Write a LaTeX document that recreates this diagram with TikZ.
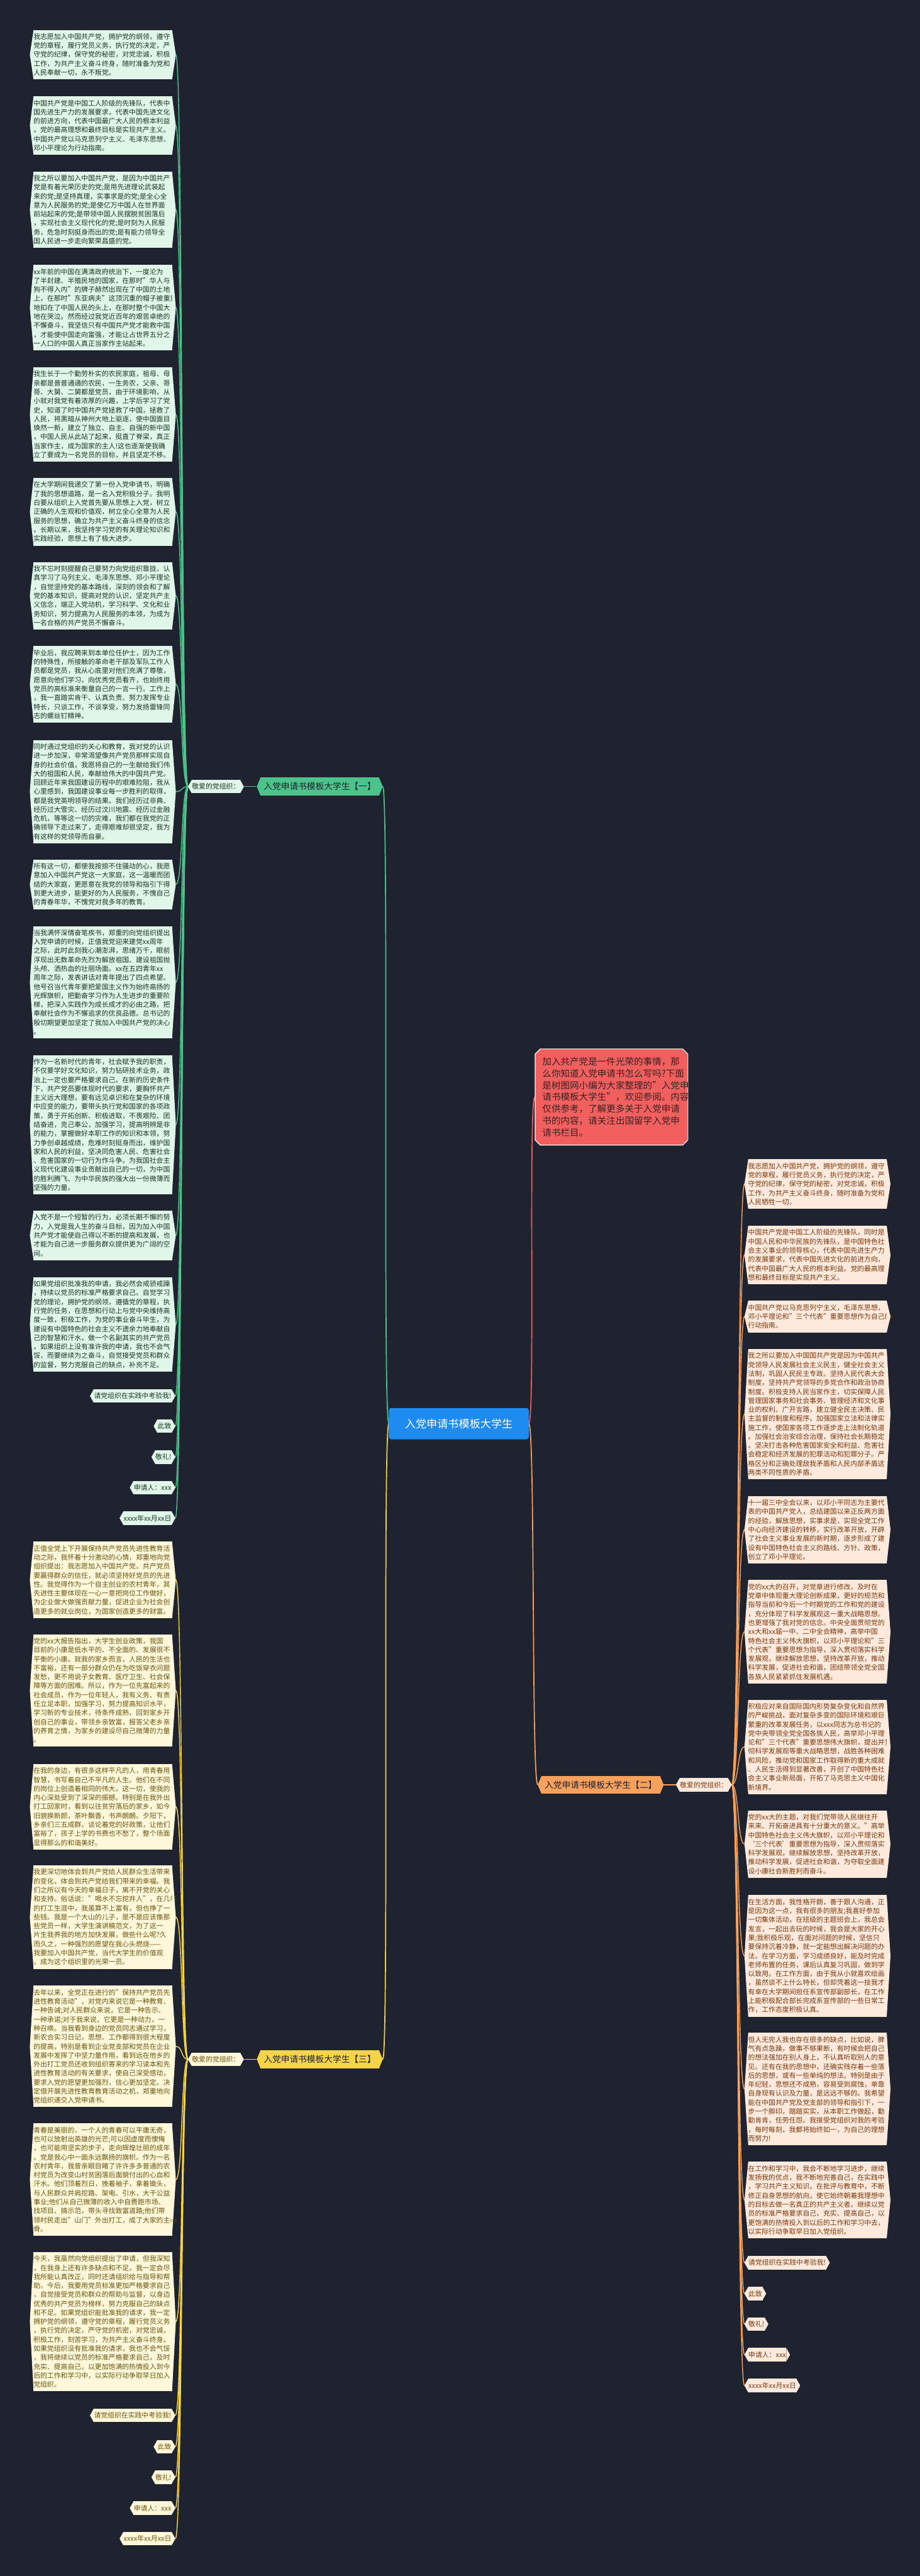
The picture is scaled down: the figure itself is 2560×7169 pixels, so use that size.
\documentclass[tikz,border=0pt]{standalone}
\usepackage{fontspec}
\setmainfont{Noto Sans CJK SC}
\usepackage{tikz}
\usetikzlibrary{backgrounds,shapes.misc}

\definecolor{bgcol}{HTML}{1F2330}
\definecolor{gfill}{HTML}{DFF6E9}
\definecolor{gtext}{HTML}{1C3326}
\definecolor{gline}{HTML}{4CC38A}
\definecolor{yfill}{HTML}{FEF7DA}
\definecolor{ytext}{HTML}{6B5511}
\definecolor{yline}{HTML}{F5D547}
\definecolor{ofill}{HTML}{FDEADD}
\definecolor{otext}{HTML}{7A3A10}
\definecolor{oline}{HTML}{F7A15C}
\definecolor{rfill}{HTML}{F25F5F}
\definecolor{rtext}{HTML}{3A2222}
\definecolor{cfill}{HTML}{1E8BF0}

% pointed ends of a box
\newcommand{\hexends}[2]{%
  \fill[#2] ([xshift=0.5pt]#1.north west) -- ([xshift=-10pt]#1.west) -- ([xshift=0.5pt]#1.south west) -- cycle;
  \fill[#2] ([xshift=-0.5pt]#1.north east) -- ([xshift=10pt]#1.east) -- ([xshift=-0.5pt]#1.south east) -- cycle;}

\tikzset{
  blk/.style={anchor=north west, text width=386pt, align=left, inner xsep=0pt, inner ysep=10pt, font=\fontsize{19}{25}\selectfont},
  leaf/.style={inner xsep=1pt, inner ysep=10pt, font=\fontsize{19}{25}\selectfont},
  gblk/.style={blk, fill=gfill, text=gtext},
  yblk/.style={blk, fill=yfill, text=ytext},
  oblk/.style={blk, fill=ofill, text=otext},
  branch/.style={inner xsep=9pt, inner ysep=14pt, font=\fontsize{24}{28}\selectfont, text=bgcol},
  conn/.style={line width=2.5pt},
}

\begin{document}
\begin{tikzpicture}[x=1pt,y=-1pt]
\useasboundingbox (0,0) rectangle (2560,7169);

% centre and intro
\node[fill=cfill, text=white, rounded corners=6pt, minimum width=389pt, minimum height=87pt, font=\fontsize{30}{34}\selectfont] (ctr) at (1277,3962) {入党申请书模板大学生};
\node[chamfered rectangle, chamfered rectangle xsep=7pt, chamfered rectangle ysep=7pt, draw=white, line width=2pt, fill=rfill, text=rtext, text width=385pt, align=left, inner xsep=13pt, inner ysep=16pt, font=\fontsize{25.5}{33}\selectfont] (intro) at (1702,3053) {加入共产党是一件光荣的事情，那\\么你知道入党申请书怎么写吗?下面\\是树图网小编为大家整理的"入党申\\请书模板大学生"，欢迎参阅。内容\\仅供参考，了解更多关于入党申请\\书的内容，请关注出国留学入党申\\请书栏目。};

% branch one
\node[branch, fill=gline] (bg) at (890,2189) {入党申请书模板大学生【一】};
\node[leaf, fill=gfill, text=gtext] (lg) at (601,2189) {敬爱的党组织：};
\node[gblk] (g1) at (93,83) {我志愿加入中国共产党，拥护党的纲领，遵守\\党的章程，履行党员义务，执行党的决定，严\\守党的纪律，保守党的秘密，对党忠诚，积极\\工作，为共产主义奋斗终身，随时准备为党和\\人民奉献一切，永不叛党。};
\node[gblk] (g2) at (93,268) {中国共产党是中国工人阶级的先锋队，代表中\\国先进生产力的发展要求，代表中国先进文化\\的前进方向，代表中国最广大人民的根本利益\\。党的最高理想和最终目标是实现共产主义。\\中国共产党以马克思列宁主义、毛泽东思想、\\邓小平理论为行动指南。};
\node[gblk] (g3) at (93,477) {我之所以要加入中国共产党，是因为中国共产\\党是有着光荣历史的党;是用先进理论武装起\\来的党;是坚持真理，实事求是的党;是全心全\\意为人民服务的党;是使亿万中国人在世界面\\前站起来的党;是带领中国人民摆脱贫困落后\\，实现社会主义现代化的党;是时刻为人民服\\务，危急时刻挺身而出的党;是有能力领导全\\国人民进一步走向繁荣昌盛的党。};
\node[gblk] (g4) at (93,737) {xx年前的中国在满清政府统治下，一度沦为\\了半封建、半殖民地的国家，在那时"华人与\\狗不得入内"的牌子赫然出现在了中国的土地\\上，在那时"东亚病夫"这顶沉重的帽子被重重\\地扣在了中国人民的头上，在那时整个中国大\\地在哭泣。然而经过我党近百年的艰苦卓绝的\\不懈奋斗，我坚信只有中国共产党才能救中国\\，才能使中国走向富强，才能让占世界五分之\\一人口的中国人真正当家作主站起来。};
\node[gblk] (g5) at (93,1022) {我生长于一个勤劳朴实的农民家庭，祖母、母\\亲都是普普通通的农民，一生务农，父亲、哥\\哥、大舅、二舅都是党员，由于环境影响，从\\小就对我党有着浓厚的兴趣，上学后学习了党\\史，知道了时中国共产党拯救了中国，拯救了\\人民，将黑暗从神州大地上驱逐，使中国面目\\焕然一新，建立了独立、自主、自强的新中国\\，中国人民从此站了起来，挺直了脊梁，真正\\当家作主，成为国家的主人!这也逐渐使我确\\立了要成为一名党员的目标，并且坚定不移。};
\node[gblk] (g6) at (93,1330) {在大学期间我递交了第一份入党申请书，明确\\了我的思想道路，是一名入党积极分子。我明\\白要从组织上入党首先要从思想上入党，树立\\正确的人生观和价值观，树立全心全意为人民\\服务的思想，确立为共产主义奋斗终身的信念\\。长期以来，我坚持学习党的有关理论知识和\\实践经验，思想上有了极大进步。};
\node[gblk] (g7) at (93,1564) {我不忘时刻提醒自己要努力向党组织靠拢，认\\真学习了马列主义、毛泽东思想、邓小平理论\\，自觉坚持党的基本路线，深刻的领会和了解\\党的基本知识，提高对党的认识，坚定共产主\\义信念，端正入党动机，学习科学、文化和业\\务知识，努力提高为人民服务的本领，为成为\\一名合格的共产党员不懈奋斗。};
\node[gblk] (g8) at (93,1798) {毕业后，我应聘来到本单位任护士，因为工作\\的特殊性，所接触的革命老干部及军队工作人\\员都是党员，我从心底里对他们充满了尊敬，\\愿意向他们学习，向优秀党员看齐，也始终用\\党员的高标准来衡量自己的一言一行。工作上\\，我一直踏实肯干、认真负责、努力发挥专业\\特长，只谈工作，不谈享受，努力发扬雷锋同\\志的螺丝钉精神。};
\node[gblk] (g9) at (93,2059) {同时通过党组织的关心和教育，我对党的认识\\进一步加深，非常渴望像共产党员那样实现自\\身的社会价值，我愿将自己的一生献给我们伟\\大的祖国和人民，奉献给伟大的中国共产党。\\回顾近年来我国建设历程中的艰难险阻，我从\\心里感到，我国建设事业每一步胜利的取得，\\都是我党英明领导的结果。我们经历过非典、\\经历过大雪灾、经历过汶川地震、经历过金融\\危机，等等这一切的灾难，我们都在我党的正\\确领导下走过来了，走得艰难却很坚定，我为\\有这样的党领导而自豪。};
\node[gblk] (g10) at (93,2392) {所有这一切，都使我按捺不住骚动的心，我愿\\意加入中国共产党这一大家庭，这一温暖而团\\结的大家庭，更愿意在我党的领导和指引下得\\到更大进步，能更好的为人民服务，不愧自己\\的青春年华，不愧党对我多年的教育。};
\node[gblk] (g11) at (93,2577) {当我满怀深情奋笔疾书，郑重的向党组织提出\\入党申请的时候，正值我党迎来建党xx周年\\之际，此时此刻我心潮澎湃，思绪万千，眼前\\浮现出无数革命先烈为解放祖国、建设祖国抛\\头颅、洒热血的壮丽场面。xx在五四青年xx\\周年之际，发表讲话对青年提出了四点希望。\\他号召当代青年要把爱国主义作为始终高扬的\\光辉旗帜，把勤奋学习作为人生进步的重要阶\\梯，把深入实践作为成长成才的必由之路，把\\奉献社会作为不懈追求的优良品德。总书记的\\殷切期望更加坚定了我加入中国共产党的决心\\。};
\node[gblk] (g12) at (93,2936) {作为一名新时代的青年，社会赋予我的职责，\\不仅要学好文化知识，努力钻研技术业务，政\\治上一定也要严格要求自己。在新的历史条件\\下，共产党员要体现时代的要求，要胸怀共产\\主义远大理想，要有远见卓识和在复杂的环境\\中应变的能力，要带头执行党和国家的各项政\\策，勇于开拓创新、积极进取，不畏艰险、团\\结奋进，克己奉公，加强学习，提高明辨是非\\的能力，掌握做好本职工作的知识和本领，努\\力争创卓越成绩，危难时刻挺身而出，维护国\\家和人民的利益，坚决同危害人民、危害社会\\、危害国家的一切行为作斗争。为我国社会主\\义现代化建设事业贡献出自己的一切，为中国\\的胜利腾飞、为中华民族的强大出一份微薄而\\坚强的力量。};
\node[gblk] (g13) at (93,3369) {入党不是一个短暂的行为，必须长期不懈的努\\力，入党是我人生的奋斗目标，因为加入中国\\共产党才能使自己得以不断的提高和发展，也\\才能为自己进一步服务群众提供更为广阔的空\\间。};
\node[gblk] (g14) at (93,3554) {如果党组织批准我的申请，我必然会戒骄戒躁\\，持续以党员的标准严格要求自己。自觉学习\\党的理论，拥护党的纲领，遵循党的章程，执\\行党的任务，在思想和行动上与党中央维持高\\度一致，积极工作，为党的事业奋斗毕生，为\\建设有中国特色的社会主义不遗余力地奉献自\\己的智慧和汗水，做一个名副其实的共产党员\\。如果组织上没有准许我的申请，我也不会气\\馁，而要继续为之奋斗，自觉接受党员和群众\\的监督，努力克服自己的缺点，补充不足。};
\node[leaf, fill=gfill, text=gtext, anchor=east] (g15) at (478,3885) {请党组织在实践中考验我!};
\node[leaf, fill=gfill, text=gtext, anchor=east] (g16) at (478,3969) {此致};
\node[leaf, fill=gfill, text=gtext, anchor=east] (g17) at (478,4055) {敬礼!};
\node[leaf, fill=gfill, text=gtext, anchor=east] (g18) at (478,4140) {申请人：xxx};
\node[leaf, fill=gfill, text=gtext, anchor=east] (g19) at (478,4225) {xxxx年xx月xx日};

% branch two
\node[branch, fill=oline] (bo) at (1672,4967) {入党申请书模板大学生【二】};
\node[leaf, fill=ofill, text=otext] (lo) at (1959,4967) {敬爱的党组织：};
\node[oblk] (o1) at (2082,3226) {我志愿加入中国共产党，拥护党的纲领，遵守\\党的章程，履行党员义务，执行党的决定，严\\守党的纪律，保守党的秘密，对党忠诚，积极\\工作，为共产主义奋斗终身，随时准备为党和\\人民牺牲一切。};
\node[oblk] (o2) at (2082,3411) {中国共产党是中国工人阶级的先锋队，同时是\\中国人民和中华民族的先锋队，是中国特色社\\会主义事业的领导核心，代表中国先进生产力\\的发展要求，代表中国先进文化的前进方向，\\代表中国最广大人民的根本利益。党的最高理\\想和最终目标是实现共产主义。};
\node[oblk] (o3) at (2082,3620) {中国共产党以马克思列宁主义，毛泽东思想，\\邓小平理论和"三个代表"重要思想作为自己的\\行动指南。};
\node[oblk] (o4) at (2082,3754) {我之所以要加入中国国共产党是因为中国共产\\党领导人民发展社会主义民主，健全社会主义\\法制，巩固人民民主专政。坚持人民代表大会\\制度，坚持共产党领导的多党合作和政治协商\\制度。积极支持人民当家作主，切实保障人民\\管理国家事务和社会事务、管理经济和文化事\\业的权利。广开言路，建立健全民主决策、民\\主监督的制度和程序。加强国家立法和法律实\\施工作，使国家各项工作逐步走上法制化轨道\\。加强社会治安综合治理，保持社会长期稳定\\。坚决打击各种危害国家安全和利益、危害社\\会稳定和经济发展的犯罪活动和犯罪分子。严\\格区分和正确处理敌我矛盾和人民内部矛盾这\\两类不同性质的矛盾。};
\node[oblk] (o5) at (2082,4163) {十一届三中全会以来，以邓小平同志为主要代\\表的中国共产党人，总结建国以来正反两方面\\的经验，解放思想，实事求是，实现全党工作\\中心向经济建设的转移，实行改革开放，开辟\\了社会主义事业发展的新时期，逐步形成了建\\设有中国特色社会主义的路线、方针、政策，\\创立了邓小平理论。};
\node[oblk] (o6) at (2082,4397) {党的xx大的召开，对党章进行修改，及时在\\党章中体现重大理论创新成果，更好的规范和\\指导当前和今后一个时期党的工作和党的建设\\，充分体现了科学发展观这一重大战略思想。\\也更增强了我对党的信念。中央全面贯彻党的\\xx大和xx届一中、二中全会精神，高举中国\\特色社会主义伟大旗帜，以邓小平理论和"三\\个代表"重要思想为指导，深入贯彻落实科学\\发展观，继续解放思想，坚持改革开放，推动\\科学发展，促进社会和谐，团结带领全党全国\\各族人民紧紧抓住发展机遇。};
\node[oblk] (o7) at (2082,4730) {积极应对来自国际国内形势复杂变化和自然界\\的严峻挑战，面对复杂多变的国际环境和艰巨\\繁重的改革发展任务，以xxx同志为总书记的\\党中央带领全党全国各族人民，高举邓小平理\\论和"三个代表"重要思想伟大旗帜，提出并贯\\彻科学发展观等重大战略思想，战胜各种困难\\和风险，推动党和国家工作取得新的重大成就\\、人民生活得到显著改善，开创了中国特色社\\会主义事业新局面，开拓了马克思主义中国化\\新境界。};
\node[oblk] (o8) at (2082,5038) {党的xx大的主题，对我们党带领人民继往开\\来来、开拓奋进具有十分重大的意义。"高举\\中国特色社会主义伟大旗帜，以邓小平理论和\\‘三个代表’重要思想为指导，深入贯彻落实\\科学发展观，继续解放思想，坚持改革开放，\\推动科学发展，促进社会和谐，为夺取全面建\\设小康社会新胜利而奋斗。};
\node[oblk] (o9) at (2082,5274) {在生活方面，我性格开朗，善于跟人沟通，正\\是因为这一点，我有很多的朋友;我喜好参加\\一切集体活动，在班级的主题班会上，我总会\\发言，一起出去玩的时候，我会是大家的开心\\果;我积极乐观，在面对问题的时候，坚信只\\要保持沉着冷静，就一定能想出解决问题的办\\法。在学习方面，学习成绩良好，能及时完成\\老师布置的任务，课后认真复习巩固，做到学\\以致用。在工作方面，由于我从小就喜欢绘画\\，虽然谈不上什么特长，但却凭着这一技我才\\有幸在大学期间担任系宣传部副部长，在工作\\上能积极配合部长完成系宣传部的一些日常工\\作，工作态度积极认真。};
\node[oblk] (o10) at (2082,5657) {但人无完人我也存在很多的缺点，比如说，脾\\气有点急躁，做事不够果断，有时候会把自己\\的想法强加在别人身上，不认真听取别人的意\\见。还有在我的思想中，还确实残存着一些落\\后的思想，或有一些单纯的想法。特别是由于\\年纪轻，思想还不成熟，容易受到腐蚀，单靠\\自身现有认识及力量，是远远不够的。我希望\\能在中国共产党及党支部的领导和指引下，一\\步一个脚印，踏踏实实，从本职工作做起，勤\\勤肯肯，任劳任怨。我接受党组织对我的考验\\，每时每刻，我都将始终如一，为自己的理想\\而努力!};
\node[oblk] (o11) at (2082,6016) {在工作和学习中，我会不断地学习进步，继续\\发扬我的优点，我不断地完善自己，在实践中\\，学习共产主义知识。在批评与教育中，不断\\修正自身思想的航向，使它始终朝着我理想中\\的目标去做一名真正的共产主义者。继续以党\\员的标准严格要求自己，充实、提高自己，以\\更饱满的热情投入到以后的工作和学习中去，\\以实际行动争取早日加入党组织。};
\node[leaf, fill=ofill, text=otext, anchor=west] (o12) at (2082,6297) {请党组织在实践中考验我!};
\node[leaf, fill=ofill, text=otext, anchor=west] (o13) at (2082,6383) {此致};
\node[leaf, fill=ofill, text=otext, anchor=west] (o14) at (2082,6468) {敬礼!};
\node[leaf, fill=ofill, text=otext, anchor=west] (o15) at (2082,6553) {申请人：xxx};
\node[leaf, fill=ofill, text=otext, anchor=west] (o16) at (2082,6639) {xxxx年xx月xx日};

% branch three
\node[branch, fill=yline] (by) at (890,5731) {入党申请书模板大学生【三】};
\node[leaf, fill=yfill, text=ytext] (ly) at (601,5731) {敬爱的党组织：};
\node[yblk] (y1) at (93,4290) {正值全党上下开展保持共产党员先进性教育活\\动之际，我怀着十分激动的心情，郑重地向党\\组织提出：我志愿加入中国共产党。共产党员\\要赢得群众的信任，就必须坚持好党员的先进\\性。我觉得作为一个自主创业的农村青年，其\\先进性主要体现在一心一意把岗位工作做好，\\为企业做大做强贡献力量，促进企业为社会创\\造更多的就业岗位，为国家创造更多的财富。};
\node[yblk] (y2) at (93,4548) {党的xx大报告指出，大学生创业政策，我国\\目前的小康是低水平的、不全面的、发展很不\\平衡的小康。就我的家乡而言，人民的生活也\\不富裕，还有一部分群众仍在为吃饭穿衣问题\\发愁，更不用说子女教育、医疗卫生、社会保\\障等方面的困难。所以，作为一位先富起来的\\社会成员，作为一位年轻人，我有义务、有责\\任立足本职，加强学习，努力提高知识水平，\\学习新的专业技术，待条件成熟，回到家乡开\\创自己的事业，带领乡亲致富，报答父老乡亲\\的养育之情，为家乡的建设尽自己微薄的力量\\。};
\node[yblk] (y3) at (93,4909) {在我的身边，有很多这样平凡的人，用青春用\\智慧，书写着自己不平凡的人生。他们在不同\\的岗位上创造着相同的伟大。这一切，使我的\\内心深处受到了深深的振撼。特别是在我外出\\打工回家时，看到以往贫穷落后的家乡，如今\\旧貌换新颜，茶叶飘香，书声朗朗。夕阳下，\\乡亲们三五成群，谈论着党的好政策，让他们\\富裕了，孩子上学的书费也不愁了，整个场面\\显得那么的和谐美好。};
\node[yblk] (y4) at (93,5191) {我更深切地体会到共产党给人民群众生活带来\\的变化，体会到共产党给我们带来的幸福。我\\们之所以有今天的幸福日子，离不开党的关心\\和支持。俗话说："喝水不忘挖井人"，在几年\\的打工生涯中，我虽算不上富有，但也挣了一\\些钱。我是一个大山的儿子，是不是应该像那\\些党员一样，大学生演讲稿范文，为了这一\\片生我养我的地方加快发展，做些什么呢?久\\而久之，一种强烈的愿望在我心头燃烧——\\我要加入中国共产党，当代大学生的价值观\\，成为这个组织里的光荣一员。};
\node[yblk] (y5) at (93,5526) {去年以来，全党正在进行的"保持共产党员先\\进性教育活动"，对党内来说它是一种教育、\\一种告诫;对人民群众来说，它是一种告示、\\一种承诺;对于我来说，它更是一种动力，一\\种召唤。当我看到身边的党员同志通过学习，\\新农合实习日记，思想、工作都得到很大程度\\的提高，特别是看到企业党支部和党员在企业\\发展中发挥了中坚力量作用，看到远在他乡的\\外出打工党员还收到组织寄来的学习读本和先\\进性教育活动的有关要求，使自己深受感动，\\要求入党的愿望更加强烈，信心更加坚定。决\\定借开展先进性教育教育活动之机，郑重地向\\党组织递交入党申请书。};
\node[yblk] (y6) at (93,5909) {青春是美丽的，一个人的青春可以平庸无奇，\\也可以放射出英雄的光芒;可以因虚度而懊悔\\，也可能用坚实的步子，走向辉煌壮丽的成年\\。党是我心中一面永远飘扬的旗帜。作为一名\\农村青年，我曾亲眼目睹了许许多多普通的农\\村党员为改变山村贫困落后面貌付出的心血和\\汗水。他们顶着烈日，挽着袖子，拿着锄头，\\与人民群众并肩挖路、架电、引水，大干公益\\事业;他们从自己微薄的收入中自费跑市场、\\找项目、搞示范，带头寻找致富道路;他们带\\领村民走出"山门"外出打工，成了大家的主心\\骨。};
\node[yblk] (y7) at (93,6267) {今天，我虽然向党组织提出了申请，但我深知\\，在我身上还有许多缺点和不足，我一定会尽\\我所能认真改正，同时还请组织给与指导和帮\\助。今后，我要用党员标准更加严格要求自己\\，自觉接受党员和群众的帮助与监督，以身边\\优秀的共产党员为榜样，努力克服自己的缺点\\和不足。如果党组织能批准我的请求，我一定\\拥护党的纲领，遵守党的章程，履行党员义务\\，执行党的决定，严守党的机密，对党忠诚，\\积极工作，刻苦学习，为共产主义奋斗终身。\\如果党组织没有批准我的请求，我也不会气馁\\，我将继续以党员的标准严格要求自己，及时\\充实、提高自己，以更加饱满的热情投入到今\\后的工作和学习中，以实际行动争取早日加入\\党组织。};
\node[leaf, fill=yfill, text=ytext, anchor=east] (y8) at (478,6722) {请党组织在实践中考验我!};
\node[leaf, fill=yfill, text=ytext, anchor=east] (y9) at (478,6809) {此致};
\node[leaf, fill=yfill, text=ytext, anchor=east] (y10) at (478,6894) {敬礼!};
\node[leaf, fill=yfill, text=ytext, anchor=east] (y11) at (478,6980) {申请人：xxx};
\node[leaf, fill=yfill, text=ytext, anchor=east] (y12) at (478,7065) {xxxx年xx月xx日};

% pointed ends
\hexends{bg}{gline} \hexends{lg}{gfill}
\hexends{bo}{oline} \hexends{lo}{ofill}
\hexends{by}{yline} \hexends{ly}{yfill}
\foreach \i in {1,...,19} {\hexends{g\i}{gfill}}
\foreach \i in {1,...,16} {\hexends{o\i}{ofill}}
\foreach \i in {1,...,12} {\hexends{y\i}{yfill}}

% connectors
\begin{scope}[on background layer]
\fill[bgcol] (0,0) rectangle (2560,7169);
\draw[rfill, line width=3pt] (ctr.east) .. controls +(18pt,0) and +(-18pt,0) .. (intro.west);
\draw[gline, line width=3pt] (ctr.west) .. controls +(-18pt,0) and +(18pt,0) .. ([xshift=10pt]bg.east);
\draw[yline, line width=3pt] (ctr.west) .. controls +(-18pt,0) and +(18pt,0) .. ([xshift=10pt]by.east);
\draw[oline, line width=3pt] (ctr.east) .. controls +(18pt,0) and +(-18pt,0) .. ([xshift=-10pt]bo.west);
\draw[gline, conn] ([xshift=-10pt]bg.west) -- ([xshift=10pt]lg.east);
\draw[yline, conn] ([xshift=-10pt]by.west) -- ([xshift=10pt]ly.east);
\draw[oline, conn] ([xshift=10pt]bo.east) -- ([xshift=-10pt]lo.west);
\foreach \i in {1,...,19}
  \draw[gline, conn] ([xshift=-10pt]lg.west) .. controls +(-20pt,0) and +(20pt,0) .. ([xshift=10pt]g\i.east);
\foreach \i in {1,...,12}
  \draw[yline, conn] ([xshift=-10pt]ly.west) .. controls +(-20pt,0) and +(20pt,0) .. ([xshift=10pt]y\i.east);
\foreach \i in {1,...,16}
  \draw[oline, conn] ([xshift=10pt]lo.east) .. controls +(20pt,0) and +(-20pt,0) .. ([xshift=-10pt]o\i.west);
\end{scope}
\end{tikzpicture}
\end{document}
